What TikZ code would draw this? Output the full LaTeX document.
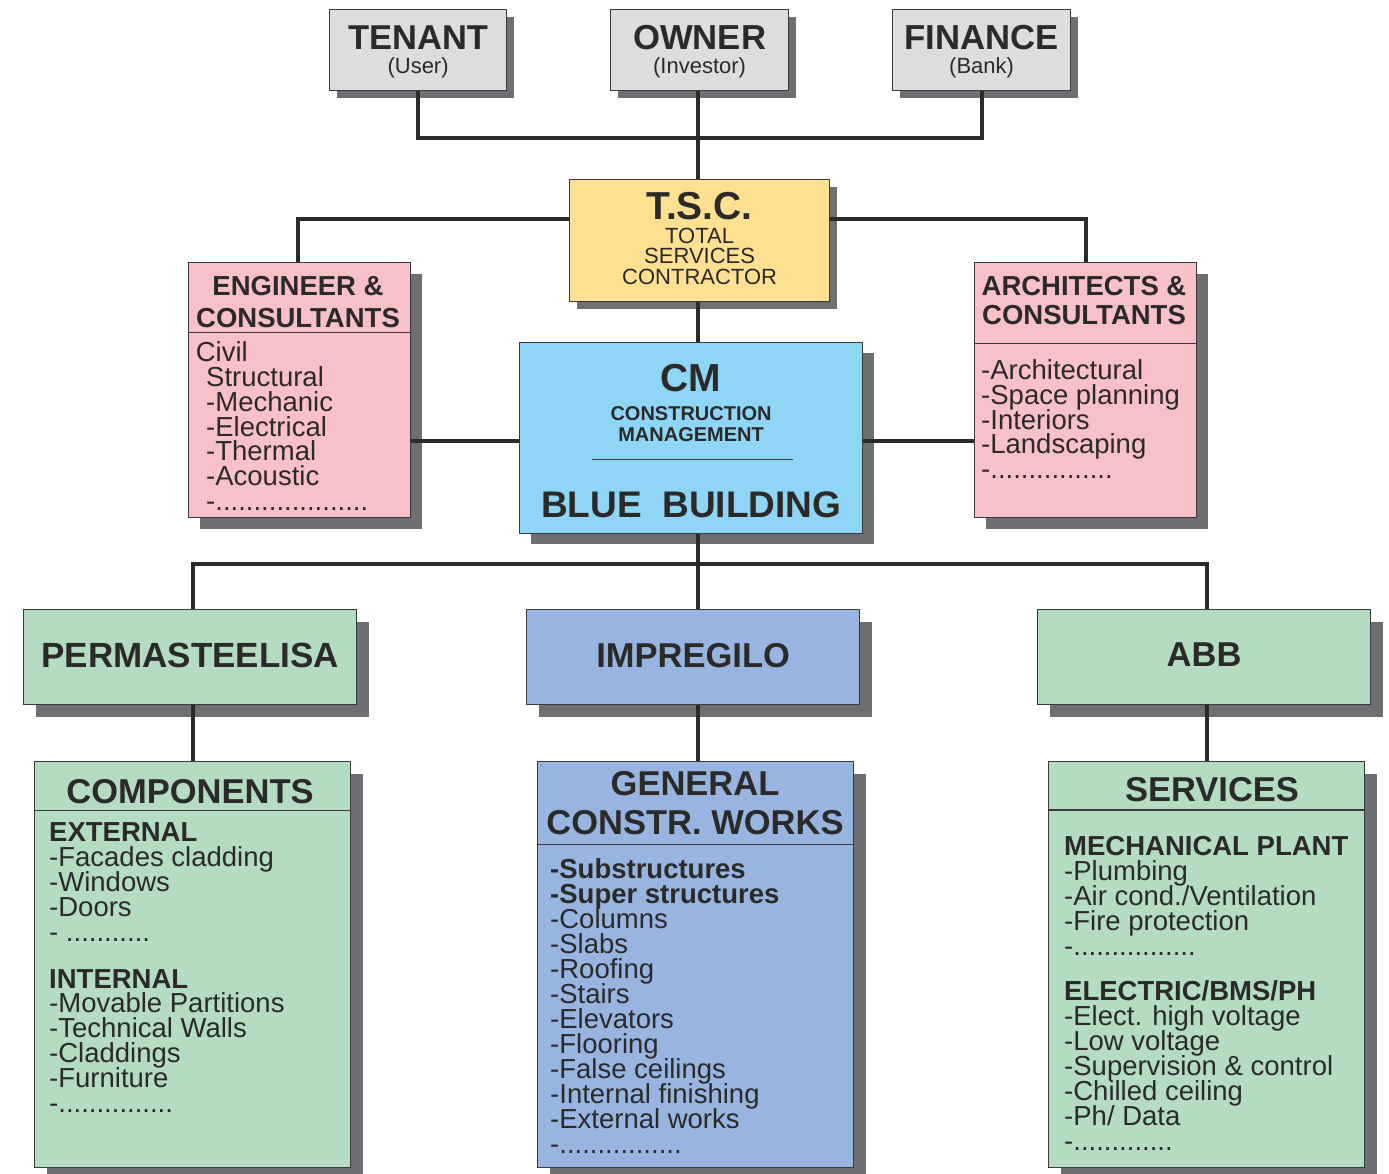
\documentclass[tikz,border=0pt]{standalone}
\usepackage{fontspec}
\setmainfont{Liberation Sans}
\usetikzlibrary{shadows}
\newcommand\myfs[1]{\fontsize{#1}{#1}\selectfont}
\ExplSyntaxOn
\cs_new:Npn \rdots #1 { \prg_replicate:nn {#1} {.} }
\ExplSyntaxOff
\definecolor{ink}{HTML}{2B2A29}
\definecolor{greyf}{HTML}{DCDDDE}
\definecolor{yelf}{HTML}{FDE091}
\definecolor{pinkf}{HTML}{F7C1C7}
\definecolor{cmf}{HTML}{8FD5F5}
\definecolor{greenf}{HTML}{B3DCC0}
\definecolor{bluef}{HTML}{97B5E0}
\definecolor{shc}{HTML}{6E6F73}
\definecolor{linec}{HTML}{2B2A29}
\definecolor{bord}{HTML}{3A3A3A}
\pgfdeclarelayer{bg}
\pgfsetlayers{bg,main}
\begin{document}
\begin{tikzpicture}[x=1pt,y=-1pt,
  conn/.style={draw=linec, line width=4pt},
  box/.style={draw=bord, line width=1.2pt, inner sep=0pt, anchor=north west},
  shs/.style={general shadow={shadow xshift=7.5pt, shadow yshift=-7.5pt, fill=shc}},
  shm/.style={general shadow={shadow xshift=11pt, shadow yshift=-11pt, fill=shc}},
  shl/.style={general shadow={shadow xshift=12.5pt, shadow yshift=-12.5pt, fill=shc}},
  divl/.style={draw=bord, line width=1.2pt},
  ctxt/.style={inner sep=0pt, anchor=base, text=ink},
  txt/.style={inner sep=0pt, anchor=base west, text=ink},
  lst/.style={txt, font=\myfs{27.5}},
  hd/.style={ctxt, font=\myfs{27.5}\bfseries},
  big/.style={ctxt, font=\myfs{34.5}\bfseries}
]
\useasboundingbox (0,0) rectangle (1389,1174);
\begin{pgfonlayer}{bg}
\fill[white] (0,0) rectangle (1389,1174);
\end{pgfonlayer}

% ---------- top row ----------
\node[box, shs, fill=greyf, minimum width=177pt, minimum height=81pt] (tenant) at (329,9) {};
\node[box, shs, fill=greyf, minimum width=178pt, minimum height=81pt] (owner) at (610,9) {};
\node[box, shs, fill=greyf, minimum width=178pt, minimum height=81pt] (finance) at (892,9) {};
\node[ctxt, font=\myfs{34.5}\bfseries] (tenantT) at (tenant.center |- 0,50) {TENANT};
\node[ctxt, font=\myfs{22}] (tenantU) at (tenant.center |- 0,73.5) {(User)};
\node[ctxt, font=\myfs{34.7}\bfseries] (ownerT) at (owner.center |- 0,50) {OWNER};
\node[ctxt, font=\myfs{22}] (ownerU) at (owner.center |- 0,73.5) {(Investor)};
\node[ctxt, font=\myfs{34.7}\bfseries] (financeT) at (finance.center |- 0,50) {FINANCE};
\node[ctxt, font=\myfs{22}] (financeU) at (finance.center |- 0,73.5) {(Bank)};

% ---------- TSC ----------
\node[box, shs, fill=yelf, minimum width=260pt, minimum height=122pt] (tsc) at (569,179) {};
\node[ctxt, font=\myfs{39}\bfseries] (tscT) at (tsc.center |- 0,220) {T.S.C.};
\node[ctxt, font=\myfs{22}] (tsc1) at (tsc.center |- 0,243.5) {TOTAL};
\node[ctxt, font=\myfs{22}] (tsc2) at (tsc.center |- 0,263.5) {SERVICES};
\node[ctxt, font=\myfs{22}] (tsc3) at (tsc.center |- 0,284) {CONTRACTOR};

% ---------- engineer ----------
\node[box, shm, fill=pinkf, minimum width=222pt, minimum height=255pt] (eng) at (188,262) {};
\node[hd] (engT1) at (298,295.5) {ENGINEER \&};
\node[hd] (engT2) at (298,327.2) {CONSULTANTS};
\draw[divl] (eng.west |- 0,332.7) -- (eng.east |- 0,332.7);
\node[lst] (engC) at (195.6,361) {Civil};
\foreach \t [count=\i] in {Structural,-Mechanic,-Electrical,-Thermal,-Acoustic,-\rdots{20}}
  \node[lst] (engl\i) at (206,{386.5+24.8*(\i-1)}) {\t};

% ---------- architects ----------
\node[box, shm, fill=pinkf, minimum width=222pt, minimum height=255pt] (arch) at (974,262) {};
\node[hd] (archT1) at (1084,295.5) {ARCHITECTS \&};
\node[hd] (archT2) at (1084,324.8) {CONSULTANTS};
\draw[divl] (arch.west |- 0,343.3) -- (arch.east |- 0,343.3);
\foreach \t [count=\i] in {-Architectural,-Space planning,-Interiors,-Landscaping,-\rdots{16}}
  \node[lst] (archl\i) at (981,{379.5+24.8*(\i-1)}) {\t};

% ---------- CM ----------
\node[box, shm, fill=cmf, minimum width=343pt, minimum height=191pt] (cm) at (519,341.7) {};
\node[ctxt, font=\myfs{39}\bfseries] (cmT) at (cm.center |- 0,391) {CM};
\node[ctxt, font=\myfs{20}\bfseries] (cm1) at (cm.center |- 0,420) {CONSTRUCTION};
\node[ctxt, font=\myfs{20}\bfseries] (cm2) at (cm.center |- 0,441) {MANAGEMENT};
\draw[draw=bord, line width=1.1pt] (592,459.3) -- (793,459.3);
\node[ctxt, font=\myfs{37}\bfseries] (cmB) at (cm.center |- 0,517) {BLUE\ \ BUILDING};

% ---------- contractors ----------
\node[box, shl, fill=greenf, minimum width=333pt, minimum height=95pt] (perma) at (23,609) {};
\node[box, shl, fill=bluef, minimum width=333pt, minimum height=95pt] (impr) at (526,609) {};
\node[box, shl, fill=greenf, minimum width=333pt, minimum height=95pt] (abb) at (1037,609) {};
\node[ctxt, font=\myfs{35}\bfseries] (permaT) at (perma.center |- 0,667) {PERMASTEELISA};
\node[big] (imprT) at (impr.center |- 0,667) {IMPREGILO};
\node[big] (abbT) at (abb.center |- 0,666) {ABB};

% ---------- components ----------
\node[box, shl, fill=greenf, minimum width=316pt, minimum height=406pt] (comp) at (34,761) {};
\node[big] (compT) at (190,803) {COMPONENTS};
\draw[divl] (comp.west |- 0,810.6) -- (comp.east |- 0,810.6);
\foreach \t [count=\i] in {\bfseries EXTERNAL,-Facades cladding,-Windows,-Doors,- \rdots{11}}
  \node[lst] (compa\i) at (49,{841.8+24.9*(\i-1)}) {\t};
\foreach \t [count=\i] in {\bfseries INTERNAL,-Movable Partitions,-Technical Walls,-Claddings,-Furniture,-\rdots{15}}
  \node[lst] (compb\i) at (49,{988+24.9*(\i-1)}) {\t};

% ---------- general works ----------
\node[box, shl, fill=bluef, minimum width=316pt, minimum height=406pt] (gen) at (537,761) {};
\node[big] (genT1) at (695,795.5) {GENERAL};
\node[big] (genT2) at (695,834) {CONSTR. WORKS};
\draw[divl] (gen.west |- 0,844.3) -- (gen.east |- 0,844.3);
\foreach \t [count=\i] in {\bfseries -Substructures,\bfseries -Super structures,-Columns,-Slabs,-Roofing,-Stairs,-Elevators,-Flooring,-False ceilings,-Internal finishing,-External works,-\rdots{16}}
  \node[lst] (genl\i) at (550,{878.2+25*(\i-1)}) {\t};

% ---------- services ----------
\node[box, shl, fill=greenf, minimum width=316pt, minimum height=406pt] (serv) at (1048,761) {};
\node[big] (servT) at (1212,801) {SERVICES};
\draw[divl] (serv.west |- 0,810) -- (serv.east |- 0,810);
\foreach \t [count=\i] in {\bfseries MECHANICAL PLANT,-Plumbing,-Air cond./Ventilation,-Fire protection,-\rdots{16}}
  \node[lst] (serva\i) at (1064,{855.5+24.9*(\i-1)}) {\t};
\foreach \t [count=\i] in {\bfseries ELECTRIC/BMS/PH,-Elect. high voltage,-Low voltage,-Supervision \& control,-Chilled ceiling,-Ph/ Data,-\rdots{13}}
  \node[lst] (servb\i) at (1064,{1000.5+25*(\i-1)}) {\t};

% ---------- connectors ----------
\coordinate (bus1) at (698,138);
\coordinate (tline) at (0,219.3);
\coordinate (mline) at (0,441);
\coordinate (bus2) at (698,564);
\draw[conn] (tenant.south) |- (bus1) -| (finance.south);
\draw[conn] (owner.south -| bus1) -- (tsc.north -| bus1);
\draw[conn] (tsc.west |- tline) -| ([xshift=-2pt]eng.north);
\draw[conn] (tsc.east |- tline) -| (arch.north);
\draw[conn] (tsc.south -| bus1) -- (cm.north -| bus1);
\draw[conn] (eng.east |- mline) -- (cm.west |- mline);
\draw[conn] (cm.east |- mline) -- (arch.west |- mline);
\draw[conn] (cm.south -| bus2) -- (bus2);
\draw[conn] (perma.north -| comp.north) |- (bus2) -| (abb.north -| serv.north);
\draw[conn] (bus2) -- (impr.north -| bus2);
\draw[conn] (perma.south -| comp.north) -- (comp.north);
\draw[conn] (impr.south -| bus2) -- (gen.north -| bus2);
\draw[conn] (abb.south -| serv.north) -- (serv.north);
\end{tikzpicture}
\end{document}
